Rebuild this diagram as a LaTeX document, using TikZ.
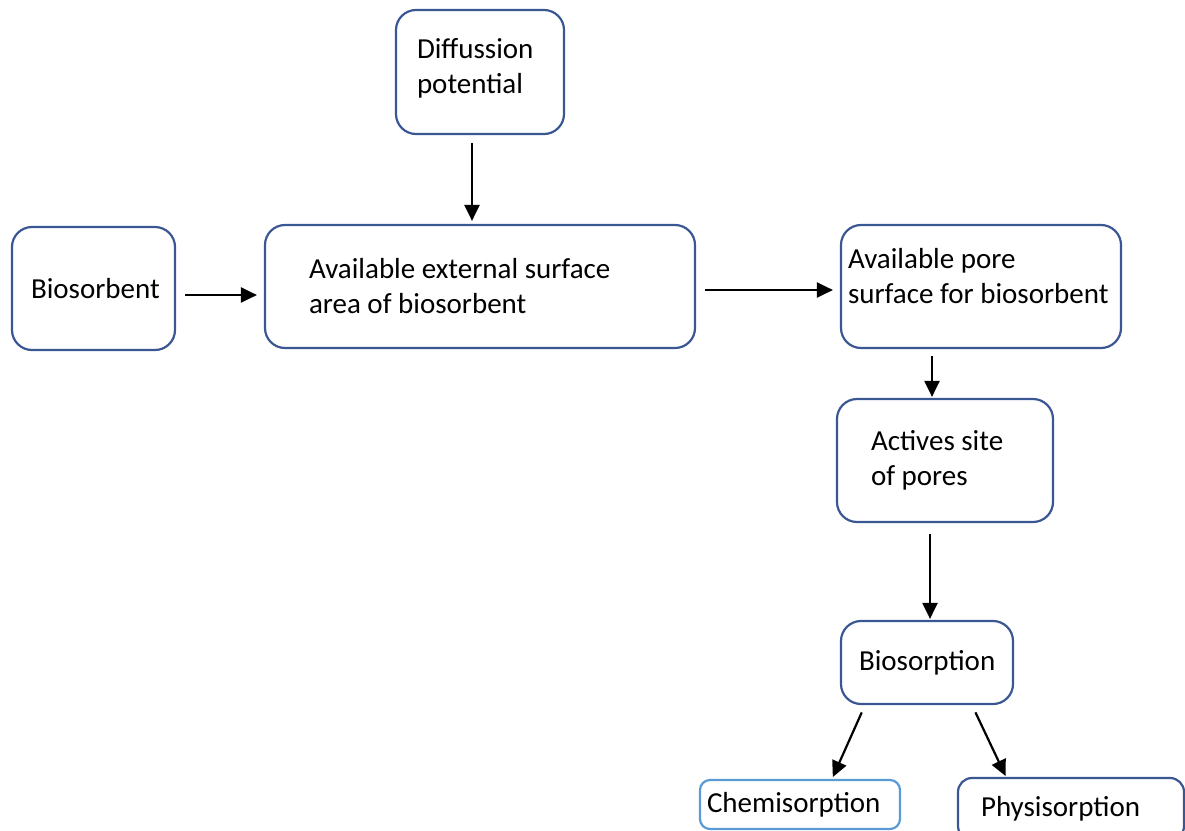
\documentclass[tikz,border=0pt]{standalone}
\usepackage{fontspec}
\setmainfont{Carlito}
\usetikzlibrary{arrows.meta}

\definecolor{boxblue}{HTML}{3A5793}
\definecolor{lightblue}{HTML}{5B9BD5}

\begin{document}
\begin{tikzpicture}[x=1pt,y=-1pt,
	box/.style={draw=boxblue,line width=2.2pt,rounded corners=20pt,inner ysep=0pt,align=flush left,font=\fontsize{29}{35}\selectfont},
	arr/.style={line width=2.2pt,-{Triangle[length=16pt,width=15pt]}}]
			\useasboundingbox (0,0) rectangle (1185,830);
			\clip (0,0) rectangle (1185,830);
			\node[box,inner xsep=21pt,text width=126pt,minimum height=124pt,text depth=48pt] (diff) at (480,72) {Diffussion\\potential};
			\node[box,inner xsep=19pt,text width=125pt,minimum height=123pt] (bios) at (93.5,288.5) {Biosorbent};
			\node[box,inner xsep=44pt,text width=342pt,minimum height=123pt] (ext) at (480,286.5) {Available external surface\\area of biosorbent};
			\node[box,inner xsep=7pt,text width=266pt,minimum height=123pt,text depth=56pt] (pore) at (981,286.5) {Available pore\\surface for biosorbent};
			\node[box,inner xsep=34pt,text width=148pt,minimum height=123pt] (actv) at (945,460.5) {Actives site\\of pores};
			\node[box,inner xsep=18pt,text width=136pt,minimum height=83pt] (bsorp) at (927,662.5) {Biosorption};
			\node[box,draw=lightblue,rounded corners=10pt,inner xsep=7pt,text width=186pt,minimum height=49pt] (chem) at (800,804.5) {Chemisorption};
			\node[box,rounded corners=14pt,inner xsep=23pt,text width=180pt,minimum height=62pt] (phys) at (1071,809) {Physisorption};
			\draw[arr,shorten <=8pt,shorten >=3pt]([xshift=-8pt]diff.south)--([xshift=-8pt]ext.north);
			\draw[arr,shorten <=9pt,shorten >=7pt]([yshift=-6.5pt]bios.east)--([yshift=-6.5pt]bios.east -| ext.west);
			\draw[arr,shorten <=9pt,shorten >=7pt]([yshift=-3.5pt]ext.east)--([yshift=-3.5pt]pore.west);
			\draw[arr,shorten <=7pt,shorten >=1pt]([xshift=-49pt]pore.south)--([xshift=-13pt]actv.north);
			\draw[arr,shorten <=11pt,shorten >=1pt]([xshift=-15pt]actv.south)--([xshift=3pt]bsorp.north);
			\draw[arr,shorten <=8pt,shorten >=2pt]([xshift=-62pt]bsorp.south)--([xshift=32pt]chem.north);
			\draw[arr,shorten <=8pt,shorten >=1pt]([xshift=45pt]bsorp.south)--([xshift=-65pt]phys.north);
		\end{tikzpicture}
\end{document}
